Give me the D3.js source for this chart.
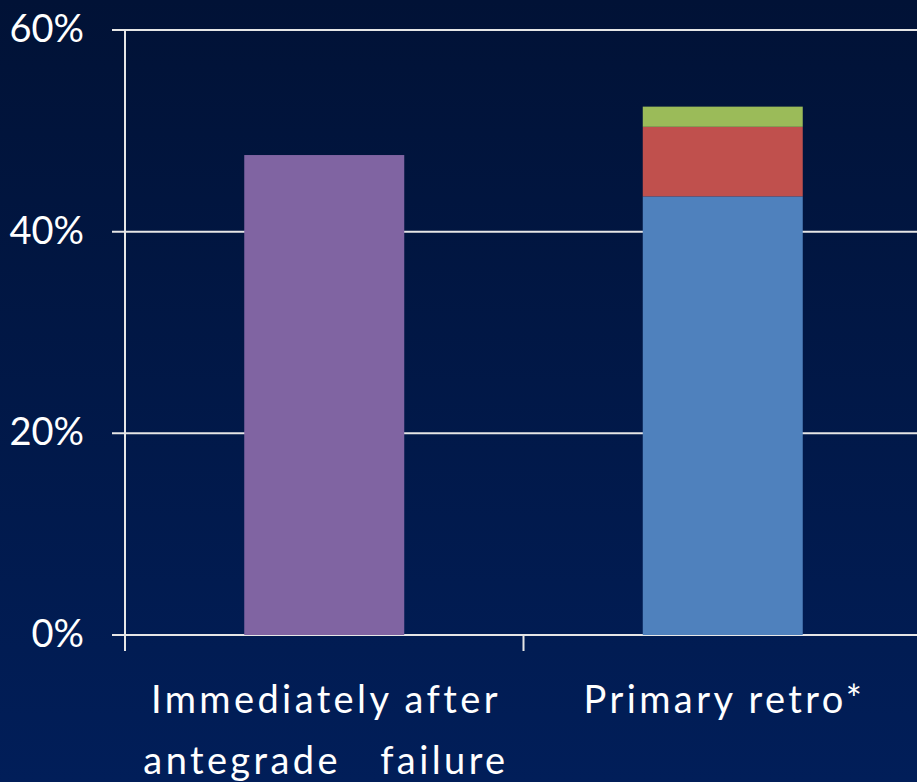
<!DOCTYPE html>
<html>
<head>
<meta charset="utf-8">
<script src="https://cdn.jsdelivr.net/npm/d3@7"></script>
<style>
  html, body { margin: 0; padding: 0; background: #011640; }
  svg { display: block; }
  text { font-family: "Lato", "Open Sans", sans-serif; fill: #ffffff; }
</style>
</head>
<body>
<svg id="chart" width="917" height="782"></svg>
<script>
// Categories and stacked segment values (percent)
const categories = ["Immediately after\nantegrade   failure", "Primary retro*"];
const seriesNames = ["antegrade", "retro A", "retro B", "retro C"];
const seriesColors = ["#8064a2", "#4f81bd", "#c0504d", "#9bbb59"];
const antegradeValues = [47.6, 0];
const retroAValues = [0, 43.5];
const retroBValues = [0, 6.9];
const retroCValues = [0, 2.0];
const yTicks = [0, 20, 40, 60];

const W = 917, H = 782;
const svg = d3.select("#chart");

// Background gradient
const defs = svg.append("defs");
const grad = defs.append("linearGradient").attr("id", "bg")
  .attr("x1", 0).attr("y1", 0).attr("x2", 0).attr("y2", 1);
grad.append("stop").attr("offset", "0%").attr("stop-color", "#011236");
grad.append("stop").attr("offset", "100%").attr("stop-color", "#011e59");
svg.append("rect").attr("width", W).attr("height", H).attr("fill", "url(#bg)");

const x = d3.scaleBand().domain(categories).range([125, 922]).paddingInner(0).paddingOuter(0);
const y = d3.scaleLinear().domain([0, 60]).range([635, 30]);
const barW = 160;

const lineColor = "#e6e6e6";

// Gridlines
svg.append("g").selectAll("line").data(yTicks).join("line")
  .attr("x1", 112).attr("x2", W)
  .attr("y1", d => y(d)).attr("y2", d => y(d))
  .attr("stroke", lineColor).attr("stroke-width", 2);

// Stacked bars
const rows = categories.map((c, i) => ({
  cat: c,
  "antegrade": antegradeValues[i],
  "retro A": retroAValues[i],
  "retro B": retroBValues[i],
  "retro C": retroCValues[i]
}));
const stack = d3.stack().keys(seriesNames)(rows);
svg.append("g").selectAll("g").data(stack).join("g")
  .attr("fill", (d, i) => seriesColors[i])
  .selectAll("rect").data(d => d.filter(s => s[1] - s[0] > 0)).join("rect")
  .attr("x", d => x(d.data.cat) + x.bandwidth() / 2 - barW / 2)
  .attr("width", barW)
  .attr("y", d => y(d[1]))
  .attr("height", d => y(d[0]) - y(d[1]));

// Y axis line
svg.append("line").attr("x1", 125).attr("x2", 125).attr("y1", y(60)).attr("y2", 651)
  .attr("stroke", lineColor).attr("stroke-width", 2);

// Category tick marks
svg.append("g").selectAll("line").data(categories.slice(1)).join("line")
  .attr("x1", d => x(d)).attr("x2", d => x(d))
  .attr("y1", y(0)).attr("y2", 651)
  .attr("stroke", lineColor).attr("stroke-width", 2);

// Y tick labels
svg.append("g").selectAll("text").data(yTicks).join("text")
  .attr("x", 84).attr("y", d => y(d))
  .attr("dy", "0.32em")
  .attr("text-anchor", "end")
  .style("font-size", "38px")
  .text(d => d + "%");

// Category labels
const lab = svg.append("g").selectAll("text").data(categories).join("text")
  .attr("x", d => x(d) + x.bandwidth() / 2 + 1.7)
  .attr("y", 713)
  .attr("text-anchor", "middle")
  .style("font-size", "38px")
  .style("letter-spacing", "3.4px")
  .attr("xml:space", "preserve")
  .style("white-space", "pre");
lab.selectAll("tspan").data(d => d.split("\n")).join("tspan")
  .attr("x", function () { return d3.select(this.parentNode).attr("x"); })
  .attr("dy", (d, i) => i === 0 ? 0 : 61)
  .text(d => d);
</script>
</body>
</html>
